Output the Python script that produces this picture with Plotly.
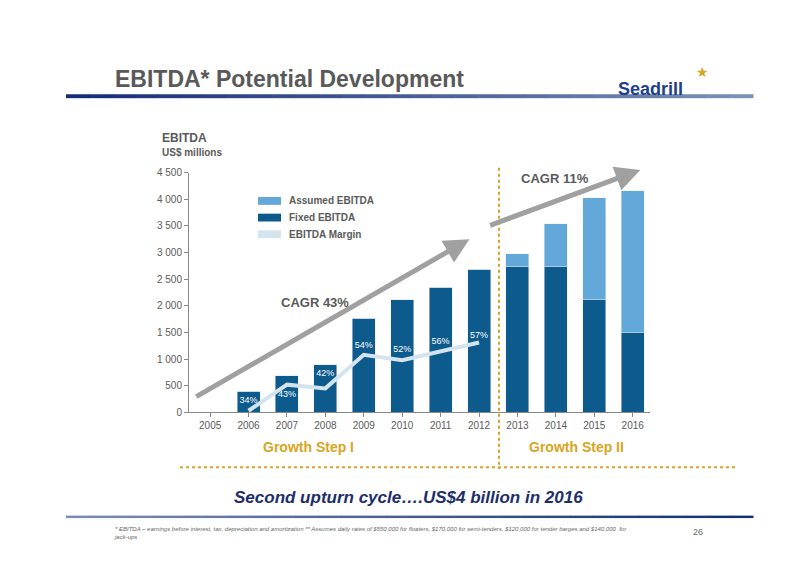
import plotly.graph_objects as go

years = [str(y) for y in range(2005, 2017)]
fixed_ebitda = [0, 400, 690, 890, 1770, 2110, 2350, 2690, 2740, 2740, 2110, 1500]
assumed_ebitda = [0, 0, 0, 0, 0, 0, 0, 0, 240, 800, 1920, 2660]
margin_years = ["2006", "2007", "2008", "2009", "2010", "2011", "2012"]
margin_level = [30, 520, 450, 1080, 980, 1150, 1310]
margin_labels = ["34%", "43%", "42%", "54%", "52%", "56%", "57%"]
margin_label_y = [220, 330, 730, 1250, 1170, 1320, 1440]
y_ticks = [0, 500, 1000, 1500, 2000, 2500, 3000, 3500, 4000, 4500]
y_tick_text = ["0", "500", "1 000", "1 500", "2 000", "2 500", "3 000", "3 500", "4 000", "4 500"]

W, H = 800, 565
def px(x): return x / W
def py(y): return 1 - y / H

DARK = "#0d5a8c"
LIGHT = "#62a8d8"
MARGIN = "#d3e4ef"
GOLD = "#d9a520"
GREY = "#5a5a5a"
FONT = "Liberation Sans"

fig = go.Figure()
fig.add_bar(x=years, y=fixed_ebitda, marker_color=DARK, width=0.6, name="Fixed EBITDA")
fig.add_bar(x=years, y=assumed_ebitda, marker_color=LIGHT, width=0.6, name="Assumed EBITDA")
fig.add_scatter(x=margin_years, y=margin_level, mode="lines",
                line=dict(color=MARGIN, width=4), name="EBITDA Margin")
fig.add_scatter(x=margin_years, y=margin_label_y, mode="text", text=margin_labels,
                textfont=dict(color="white", size=9, family=FONT), showlegend=False)

fig.update_layout(
    width=W, height=H, barmode="stack", showlegend=False,
    paper_bgcolor="white", plot_bgcolor="white",
    margin=dict(l=0, r=0, t=0, b=0),
    font=dict(family=FONT, color=GREY),
    xaxis=dict(domain=[px(181), px(642)], range=[-0.55, 11.45], showline=True,
               linecolor="#888", ticks="outside", ticklen=4, tickcolor="#888",
               tickfont=dict(size=10, color=GREY), showgrid=False),
    yaxis=dict(domain=[py(407), py(162)], range=[0, 4500], tickvals=y_ticks,
               ticktext=y_tick_text, showline=True, linecolor="#888", ticks="outside",
               ticklen=4, tickcolor="#888", tickfont=dict(size=10, color=GREY),
               showgrid=False, zeroline=False),
)

# header / footer rules (gradient approximated in segments)
n = 30
for i in range(n):
    t = i / (n - 1)
    c_top = "rgb(%d,%d,%d)" % (20 + 100 * t, 45 + 100 * t, 120 + 60 * t)
    c_bot = "rgb(%d,%d,%d)" % (120 - 100 * t, 140 - 95 * t, 180 - 60 * t)
    x0 = 58 + (745 - 58) * i / n
    x1 = 58 + (745 - 58) * (i + 1) / n + 0.5
    fig.add_shape(type="rect", xref="paper", yref="paper", x0=px(x0), x1=px(x1),
                  y0=py(86), y1=py(82), fillcolor=c_top, line_width=0)
    fig.add_shape(type="rect", xref="paper", yref="paper", x0=px(x0), x1=px(x1),
                  y0=py(515), y1=py(512.5), fillcolor=c_bot, line_width=0)

# dotted separators
fig.add_shape(type="line", xref="paper", yref="paper", x0=px(491), x1=px(491),
              y0=py(157), y1=py(465), line=dict(color=GOLD, width=2, dash="dot"))
fig.add_shape(type="line", xref="paper", yref="paper", x0=px(172), x1=px(730),
              y0=py(463), y1=py(463), line=dict(color=GOLD, width=2, dash="dot"))

# CAGR arrows
for (x0, y0, x1, y1) in [(-0.4, 280, 6.75, 3250), (7.25, 3500, 11.2, 4550)]:
    fig.add_annotation(x=x1, y=y1, ax=x0, ay=y0, xref="x", yref="y", axref="x", ayref="y",
                       showarrow=True, arrowhead=2, arrowsize=1, arrowwidth=5,
                       arrowcolor="#a0a0a0", text="")

# legend (drawn manually)
leg = [("Assumed EBITDA", LIGHT, 191), ("Fixed EBITDA", DARK, 208), ("EBITDA Margin", MARGIN, 225)]
for name, col, y in leg:
    fig.add_shape(type="rect", xref="paper", yref="paper", x0=px(250), x1=px(273),
                  y0=py(y + 4), y1=py(y - 4), fillcolor=col, line_width=0)
    fig.add_annotation(x=px(279), y=py(y), xref="paper", yref="paper", text="<b>%s</b>" % name,
                       showarrow=False, xanchor="left", font=dict(size=10, color=GREY))

texts = [
    ("<b>EBITDA* Potential Development</b>", 105, 66, 23, "#595959", "left"),
    ("<b>EBITDA</b>", 152, 127, 12, GREY, "left"),
    ("<b>US$ millions</b>", 152, 142, 10, GREY, "left"),
    ("<b>CAGR 43%</b>", 307, 295, 13, GREY, "center"),
    ("<b>CAGR 11%</b>", 547, 168, 13, GREY, "center"),
    ("<b>Growth Step I</b>", 300, 442, 14, GOLD, "center"),
    ("<b>Growth Step II</b>", 568, 442, 14, GOLD, "center"),
    ("<b><i>Second upturn cycle\u2026.US$4 billion in 2016</i></b>", 400, 494, 17, "#1e2d6b", "center"),
    ("<i>* EBITDA \u2013 earnings before interest, tax, depreciation and amortization ** Assumes daily rates of $550,000 for floaters, $170,000 for semi-tenders, $120,000 for tender barges and $140,000  for<br>jack-ups</i>",
     104, 530, 6, "#666", "left"),
    ("26", 690, 529, 9, "#666", "center"),
]
for t, x, y, s, c, anc in texts:
    fig.add_annotation(x=px(x), y=py(y), xref="paper", yref="paper", text=t, showarrow=False,
                       xanchor=anc, yanchor="middle", align="left",
                       font=dict(size=s, color=c))

# logo
fig.add_annotation(x=px(677), y=py(64), xref="paper", yref="paper", text="<b>Seadrill</b>",
                   showarrow=False, font=dict(size=18, color="#1e3f8a", family="Liberation Sans"))
fig.add_annotation(x=px(703), y=py(49), xref="paper", yref="paper", text="\u2605",
                   showarrow=False, font=dict(size=14, color=GOLD))

fig.write_html("out.html")
